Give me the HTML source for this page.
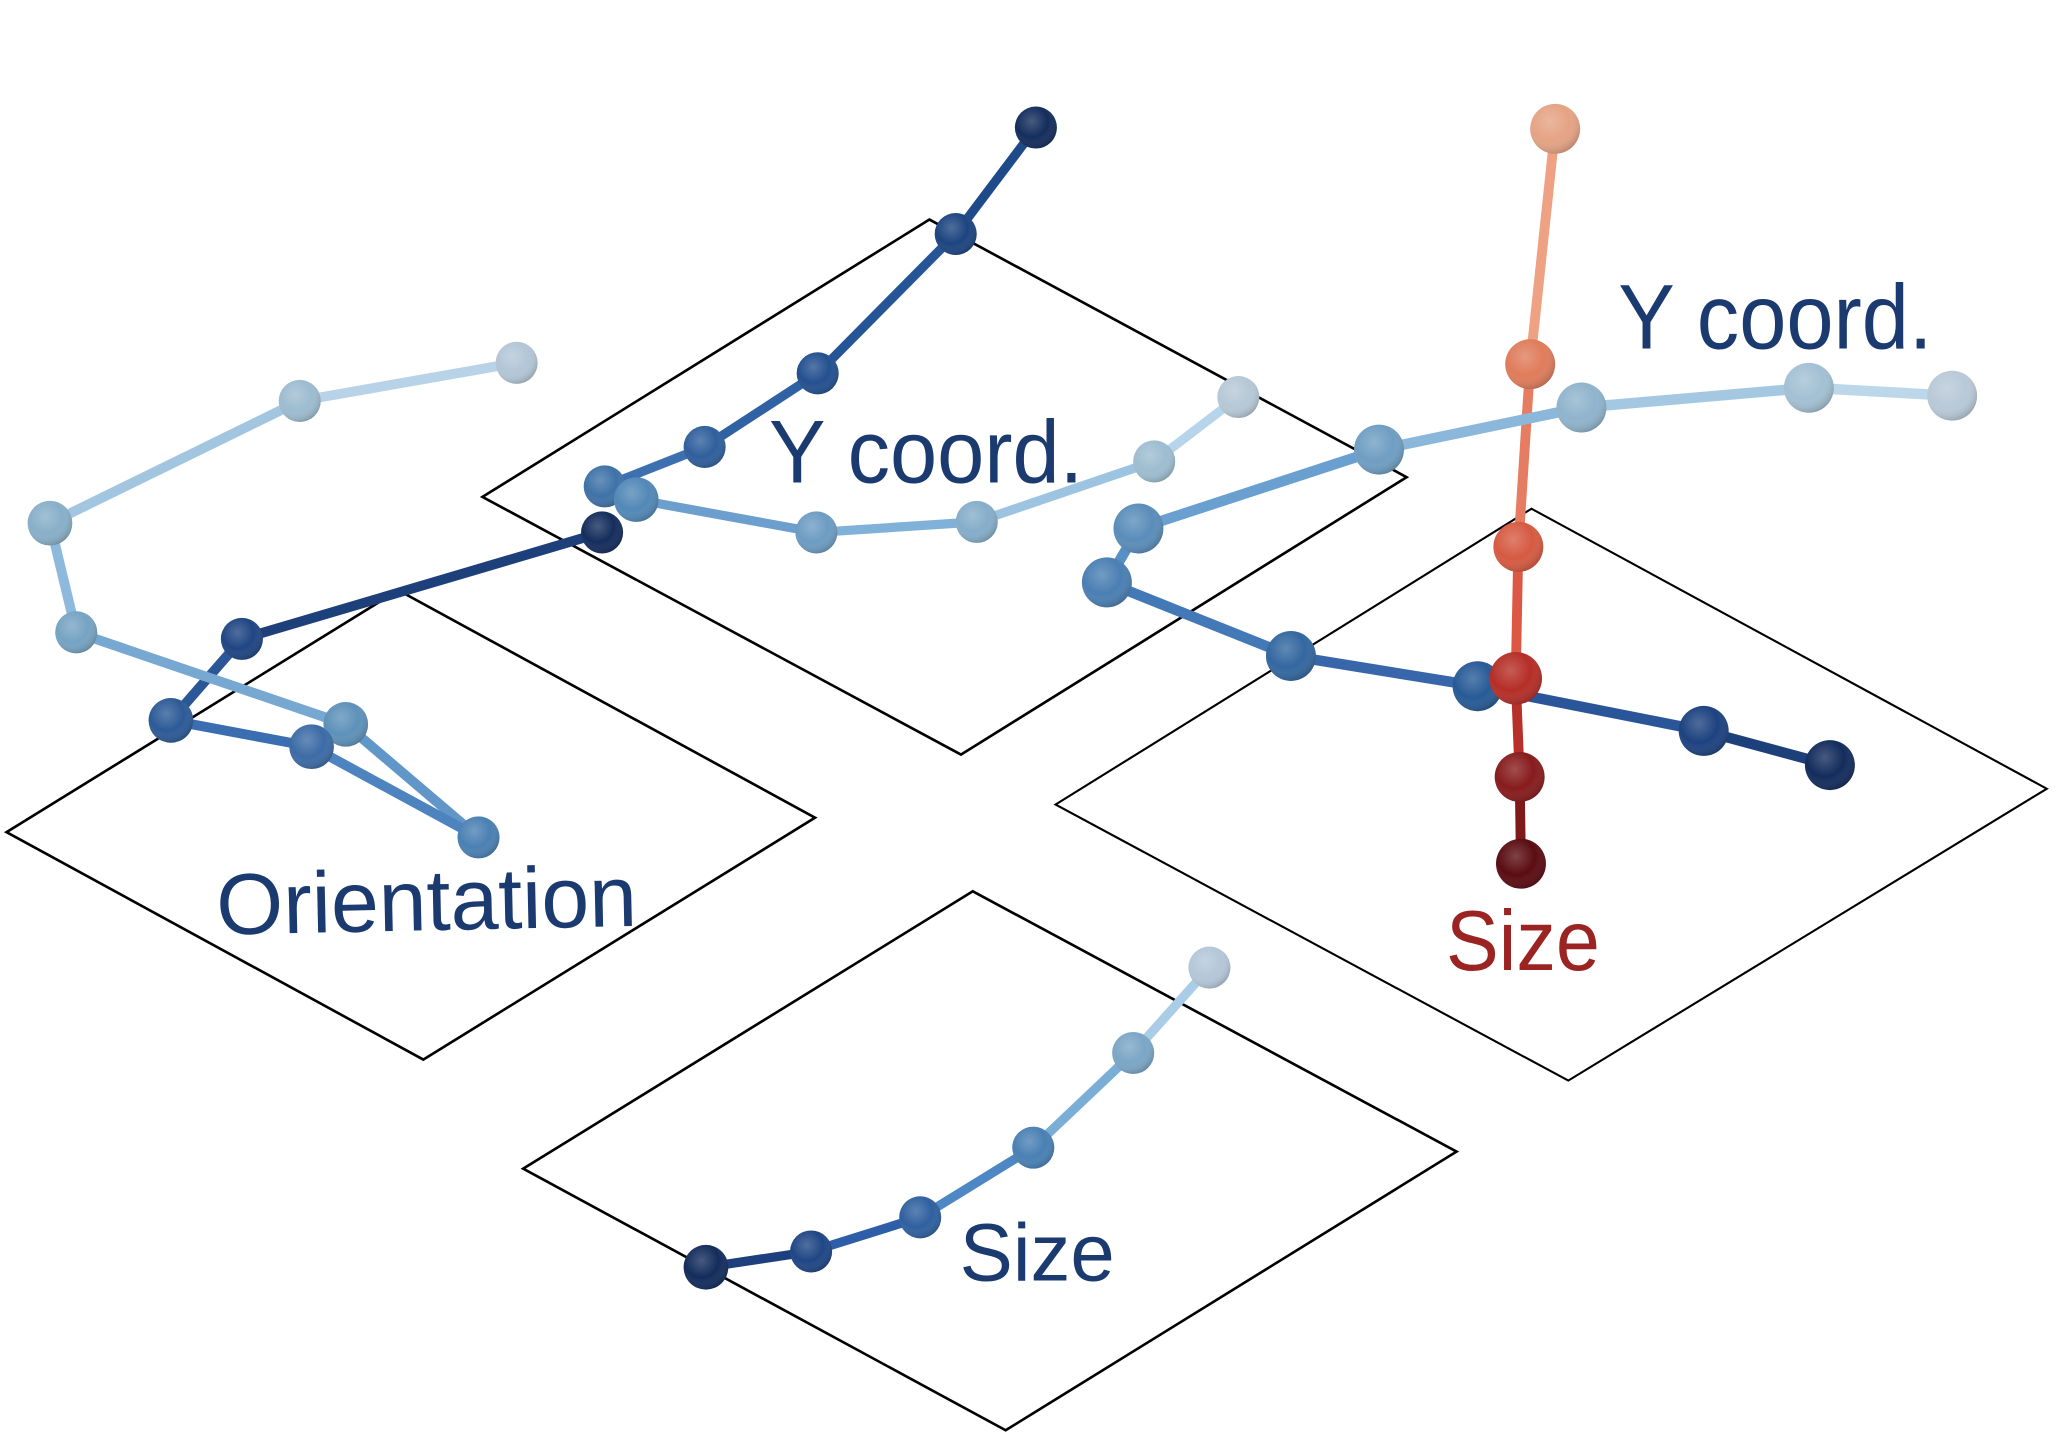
<!DOCTYPE html>
<html>
<head>
<meta charset="utf-8">
<style>
  html,body{margin:0;padding:0;background:#ffffff;}
  body{width:2056px;height:1440px;overflow:hidden;}
  svg{display:block;}
  .lbl{font-family:"Liberation Sans",Arial,sans-serif;}
</style>
</head>
<body>
<svg width="2056" height="1440" viewBox="0 0 1564 1095.4" preserveAspectRatio="none" xmlns="http://www.w3.org/2000/svg">
  <defs>
    <radialGradient id="sh" cx="0.4" cy="0.35" r="0.7">
      <stop offset="0" stop-color="#ffffff" stop-opacity="0.22"/>
      <stop offset="0.55" stop-color="#ffffff" stop-opacity="0"/>
      <stop offset="1" stop-color="#000000" stop-opacity="0.22"/>
    </radialGradient>
  </defs>
  <rect x="0" y="0" width="1564" height="1095.4" fill="#ffffff"/>

  <!-- Plates -->
  <g fill="none" stroke="#000" stroke-width="2" stroke-linejoin="miter">
    <polygon points="5,633 303,449 620,622 322,806"/>
    <polygon points="367,378 707,167 1070,363 731,574"/>
    <polygon points="803,612 1165,387 1557,600 1193,822" stroke-width="1.6"/>
    <polygon points="398,889 740,678 1108,876 765,1088"/>
  </g>

  <!-- Middle trajectory (Y coord.) -->
  <g stroke-width="7" stroke-linecap="round">
    <line x1="788" y1="97" x2="727" y2="178" stroke="#1f4a8a"/>
    <line x1="727" y1="178" x2="622" y2="284" stroke="#265597"/>
    <line x1="622" y1="284" x2="536" y2="340" stroke="#2f61a3"/>
    <line x1="536" y1="340" x2="460" y2="370" stroke="#3d70ae"/>
    <line x1="460" y1="370" x2="484" y2="380" stroke="#5288c0"/>
    <line x1="484" y1="380" x2="621" y2="405" stroke="#6c9fcd"/>
    <line x1="621" y1="405" x2="743" y2="397" stroke="#80b1d8"/>
    <line x1="743" y1="397" x2="878" y2="351" stroke="#9cc4e0"/>
    <line x1="878" y1="351" x2="942" y2="302" stroke="#b7d5ea"/>
  </g>
  <g>
    <circle cx="788" cy="97" r="16" fill="#142d5c"/><circle cx="788" cy="97" r="16" fill="url(#sh)"/>
    <circle cx="727" cy="178" r="16" fill="#1d4480"/><circle cx="727" cy="178" r="16" fill="url(#sh)"/>
    <circle cx="622" cy="284" r="16" fill="#23508f"/><circle cx="622" cy="284" r="16" fill="url(#sh)"/>
    <circle cx="536" cy="340" r="16" fill="#2f5f9c"/><circle cx="536" cy="340" r="16" fill="url(#sh)"/>
    <circle cx="460" cy="370" r="16" fill="#3f72a8"/><circle cx="460" cy="370" r="16" fill="url(#sh)"/>
    <circle cx="484" cy="380" r="17" fill="#5288b7"/><circle cx="484" cy="380" r="17" fill="url(#sh)"/>
    <circle cx="621" cy="405" r="16" fill="#6d9cc2"/><circle cx="621" cy="405" r="16" fill="url(#sh)"/>
    <circle cx="743" cy="397" r="16" fill="#85adc9"/><circle cx="743" cy="397" r="16" fill="url(#sh)"/>
    <circle cx="878" cy="351" r="16" fill="#9dbdd0"/><circle cx="878" cy="351" r="16" fill="url(#sh)"/>
    <circle cx="942" cy="302" r="16" fill="#b6c8d6"/><circle cx="942" cy="302" r="16" fill="url(#sh)"/>
  </g>

  <!-- Left trajectory (Orientation) -->
  <g stroke-width="7.5" stroke-linecap="round">
    <line x1="130" y1="548" x2="184" y2="486" stroke="#2b5796"/>
    <line x1="184" y1="486" x2="458" y2="405" stroke="#1d3f7a"/>
    <line x1="393" y1="276" x2="228" y2="305" stroke="#b8d3e8"/>
    <line x1="228" y1="305" x2="38" y2="398" stroke="#a2c6e0"/>
    <line x1="38" y1="398" x2="58" y2="481" stroke="#8dbadc"/>
    <line x1="58" y1="481" x2="263" y2="551" stroke="#77a8d2"/>
    <line x1="263" y1="551" x2="364" y2="637" stroke="#6096c8"/>
    <line x1="364" y1="637" x2="237" y2="568" stroke="#4d84bf"/>
    <line x1="237" y1="568" x2="130" y2="548" stroke="#3a6eb0"/>
  </g>
  <g>
    <circle cx="393" cy="276" r="16" fill="#b3c6d6"/><circle cx="393" cy="276" r="16" fill="url(#sh)"/>
    <circle cx="228" cy="305" r="16" fill="#9dbcd0"/><circle cx="228" cy="305" r="16" fill="url(#sh)"/>
    <circle cx="38" cy="398" r="17" fill="#88afc9"/><circle cx="38" cy="398" r="17" fill="url(#sh)"/>
    <circle cx="58" cy="481" r="16" fill="#76a3c3"/><circle cx="58" cy="481" r="16" fill="url(#sh)"/>
    <circle cx="263" cy="551" r="17" fill="#5e91b9"/><circle cx="263" cy="551" r="17" fill="url(#sh)"/>
    <circle cx="364" cy="637" r="16" fill="#4b80b3"/><circle cx="364" cy="637" r="16" fill="url(#sh)"/>
    <circle cx="237" cy="568" r="17" fill="#3c6ba6"/><circle cx="237" cy="568" r="17" fill="url(#sh)"/>
    <circle cx="130" cy="548" r="17" fill="#2c5a97"/><circle cx="130" cy="548" r="17" fill="url(#sh)"/>
    <circle cx="184" cy="486" r="16" fill="#1f4583"/><circle cx="184" cy="486" r="16" fill="url(#sh)"/>
    <circle cx="458" cy="405" r="16" fill="#142d5c"/><circle cx="458" cy="405" r="16" fill="url(#sh)"/>
  </g>

  <!-- Red trajectory (upper part, behind blue) -->
  <g stroke-width="7.5" stroke-linecap="round">
    <line x1="1183" y1="98" x2="1164" y2="277" stroke="#eea283"/>
    <line x1="1164" y1="277" x2="1155" y2="416" stroke="#e67c62"/>
  </g>
  <g>
    <circle cx="1183" cy="98" r="19" fill="#e5a384"/><circle cx="1183" cy="98" r="19" fill="url(#sh)"/>
    <circle cx="1164" cy="277" r="19" fill="#df7c5b"/><circle cx="1164" cy="277" r="19" fill="url(#sh)"/>
  </g>

  <!-- Right blue trajectory -->
  <g stroke-width="8" stroke-linecap="round">
    <line x1="1485" y1="301" x2="1376" y2="295" stroke="#bcd7ea"/>
    <line x1="1376" y1="295" x2="1203" y2="310" stroke="#a4c8e1"/>
    <line x1="1203" y1="310" x2="1049" y2="342" stroke="#8bb8da"/>
    <line x1="1049" y1="342" x2="866" y2="402" stroke="#6aa0cf"/>
    <line x1="866" y1="402" x2="842" y2="443" stroke="#5690c6"/>
    <line x1="842" y1="443" x2="982" y2="499" stroke="#4479b8"/>
    <line x1="982" y1="499" x2="1124" y2="522" stroke="#3866aa"/>
    <line x1="1124" y1="522" x2="1296" y2="556" stroke="#2a5598"/>
    <line x1="1296" y1="556" x2="1392" y2="582" stroke="#1d3f7a"/>
  </g>
  <g>
    <circle cx="1485" cy="301" r="19" fill="#b8c9d7"/><circle cx="1485" cy="301" r="19" fill="url(#sh)"/>
    <circle cx="1376" cy="295" r="19" fill="#a3c0d3"/><circle cx="1376" cy="295" r="19" fill="url(#sh)"/>
    <circle cx="1203" cy="310" r="19" fill="#8fb4cc"/><circle cx="1203" cy="310" r="19" fill="url(#sh)"/>
    <circle cx="1049" cy="342" r="19" fill="#6f9ec2"/><circle cx="1049" cy="342" r="19" fill="url(#sh)"/>
    <circle cx="866" cy="402" r="19" fill="#5a8dba"/><circle cx="866" cy="402" r="19" fill="url(#sh)"/>
    <circle cx="842" cy="443" r="19" fill="#4a7fb3"/><circle cx="842" cy="443" r="19" fill="url(#sh)"/>
    <circle cx="982" cy="499" r="19" fill="#33679f"/><circle cx="982" cy="499" r="19" fill="url(#sh)"/>
    <circle cx="1124" cy="522" r="19" fill="#275a96"/><circle cx="1124" cy="522" r="19" fill="url(#sh)"/>
    <circle cx="1296" cy="556" r="19" fill="#1d4280"/><circle cx="1296" cy="556" r="19" fill="url(#sh)"/>
    <circle cx="1392" cy="582" r="19" fill="#132c5c"/><circle cx="1392" cy="582" r="19" fill="url(#sh)"/>
  </g>

  <!-- Red trajectory (lower part) -->
  <g stroke-width="7.5" stroke-linecap="round">
    <line x1="1155" y1="416" x2="1153" y2="516" stroke="#dc5844"/>
    <line x1="1153" y1="516" x2="1156" y2="591" stroke="#b8302a"/>
    <line x1="1156" y1="591" x2="1157" y2="657" stroke="#7e1a1c"/>
  </g>
  <g>
    <circle cx="1155" cy="416" r="19" fill="#d65a42"/><circle cx="1155" cy="416" r="19" fill="url(#sh)"/>
    <circle cx="1153" cy="516" r="20" fill="#b52e27"/><circle cx="1153" cy="516" r="20" fill="url(#sh)"/>
    <circle cx="1156" cy="591" r="19" fill="#871b1d"/><circle cx="1156" cy="591" r="19" fill="url(#sh)"/>
    <circle cx="1157" cy="657" r="19" fill="#5a0c12"/><circle cx="1157" cy="657" r="19" fill="url(#sh)"/>
  </g>

  <!-- Bottom trajectory (Size) -->
  <g stroke-width="7" stroke-linecap="round">
    <line x1="537" y1="964" x2="617" y2="952" stroke="#1d3f7e"/>
    <line x1="617" y1="952" x2="700" y2="926" stroke="#2e5ea8"/>
    <line x1="700" y1="926" x2="786" y2="873" stroke="#4d88c4"/>
    <line x1="786" y1="873" x2="862" y2="801" stroke="#7aaed6"/>
    <line x1="862" y1="801" x2="920" y2="736" stroke="#a9cde6"/>
  </g>
  <g>
    <circle cx="537" cy="964" r="17" fill="#132c5c"/><circle cx="537" cy="964" r="17" fill="url(#sh)"/>
    <circle cx="617" cy="952" r="16" fill="#1f4685"/><circle cx="617" cy="952" r="16" fill="url(#sh)"/>
    <circle cx="700" cy="926" r="16" fill="#2f609f"/><circle cx="700" cy="926" r="16" fill="url(#sh)"/>
    <circle cx="786" cy="873" r="16" fill="#4a80b4"/><circle cx="786" cy="873" r="16" fill="url(#sh)"/>
    <circle cx="862" cy="801" r="16" fill="#7ba6c6"/><circle cx="862" cy="801" r="16" fill="url(#sh)"/>
    <circle cx="920" cy="736" r="16" fill="#b4c7d8"/><circle cx="920" cy="736" r="16" fill="url(#sh)"/>
  </g>

  <!-- Labels -->
  <g class="lbl">
    <text x="165" y="711" font-size="66" fill="#1b3a6f" textLength="320" lengthAdjust="spacingAndGlyphs" transform="rotate(-1.2 165 711)">Orientation</text>
    <text x="585" y="367" font-size="68" fill="#1b3a6f" textLength="239" lengthAdjust="spacingAndGlyphs">Y coord.</text>
    <text x="1231" y="265" font-size="70" fill="#1b3a6f" textLength="239" lengthAdjust="spacingAndGlyphs">Y coord.</text>
    <text x="1100" y="738" font-size="65" fill="#9b2423" textLength="117" lengthAdjust="spacingAndGlyphs">Size</text>
    <text x="730" y="974" font-size="62" fill="#1b3a6f" textLength="118" lengthAdjust="spacingAndGlyphs">Size</text>
  </g>
</svg>
</body>
</html>
